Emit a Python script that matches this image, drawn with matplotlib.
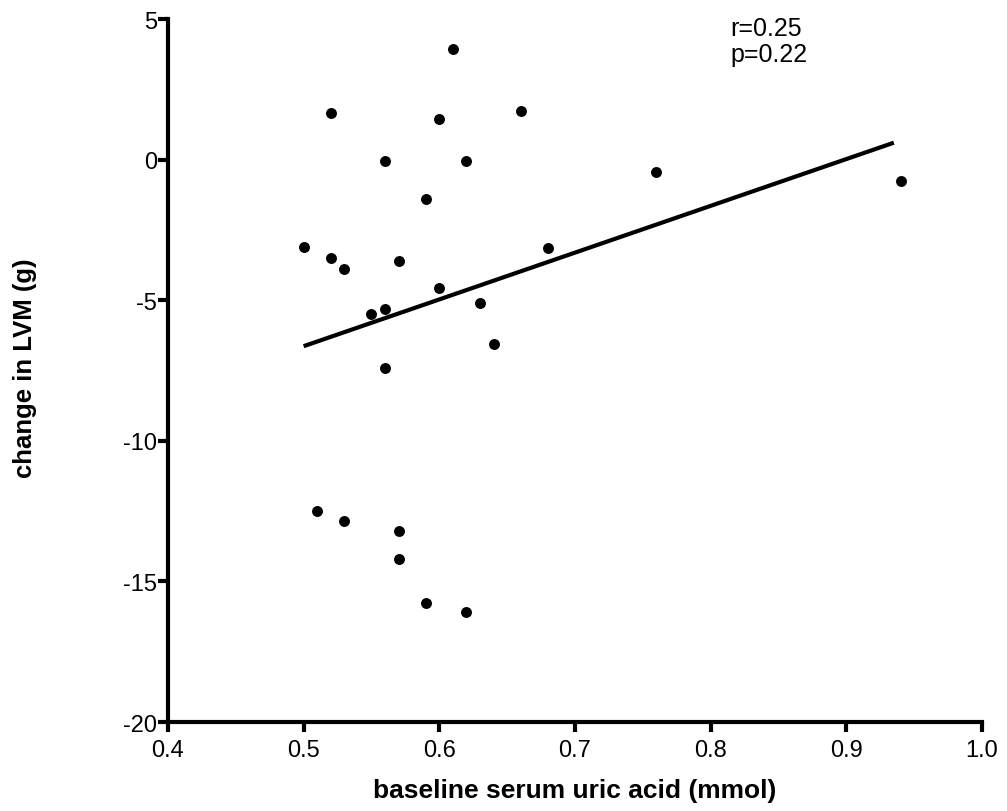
import numpy as np
import matplotlib
matplotlib.use("Agg")
import matplotlib.pyplot as plt

plt.rcParams['font.family'] = ['Liberation Sans', 'DejaVu Sans']
plt.rcParams['axes.unicode_minus'] = False

# datos
acido_urico = [0.50, 0.51, 0.52, 0.52, 0.53, 0.53, 0.55, 0.56, 0.56, 0.56,
               0.57, 0.57, 0.57, 0.59, 0.59, 0.60, 0.60, 0.61, 0.62, 0.62,
               0.63, 0.64, 0.66, 0.68, 0.76, 0.94]
cambio_lvm = [-3.1, -12.5, 1.65, -3.5, -3.9, -12.85, -5.5, -0.05, -5.3, -7.4,
              -3.6, -13.2, -14.2, -1.4, -15.75, 1.45, -4.55, 3.95, -0.05, -16.1,
              -5.1, -6.55, 1.75, -3.15, -0.45, -0.75]

# recta de regresion (extremos)
recta_x = [0.50, 0.935]
recta_y = [-6.63, 0.61]

xticks = [0.4, 0.5, 0.6, 0.7, 0.8, 0.9, 1.0]
yticks = [-20, -15, -10, -5, 0, 5]

fig = plt.figure(figsize=(10.07, 8.12), dpi=100)
ax = fig.add_axes([0.1668, 0.1096, 0.8084, 0.8654])

ax.scatter(acido_urico, cambio_lvm, s=62, color='black', zorder=3, linewidths=0)
ax.plot(recta_x, recta_y, color='black', linewidth=3, solid_capstyle='butt')

ax.set_xlim(0.4, 1.0)
ax.set_ylim(-20, 5)
ax.set_xticks(xticks)
ax.set_xticklabels([f"{v:.1f}" for v in xticks])
ax.set_yticks(yticks)

for lado in ['top', 'right']:
    ax.spines[lado].set_visible(False)
for lado in ['left', 'bottom']:
    ax.spines[lado].set_linewidth(3)
ax.tick_params(axis='both', direction='out', length=7, width=3, labelsize=17)
ax.tick_params(axis='y', pad=1)
ax.tick_params(axis='x', pad=5)

ax.set_xlabel('baseline serum uric acid (mmol)', fontsize=19, fontweight='bold')
ax.xaxis.set_label_coords(0.5, -0.079)
ax.set_ylabel('change in LVM (g)', fontsize=18.5, fontweight='bold')
ax.yaxis.set_label_coords((25 - 168) / 814, 0.505)
ax.yaxis.label.set_va('center')

ax.text(730 / 1007, 1 - 17 / 812, 'r=0.25\np=0.22', transform=fig.transFigure,
        fontsize=18, va='top', ha='left', linespacing=1.1)

fig.savefig('out.png', dpi=100)
